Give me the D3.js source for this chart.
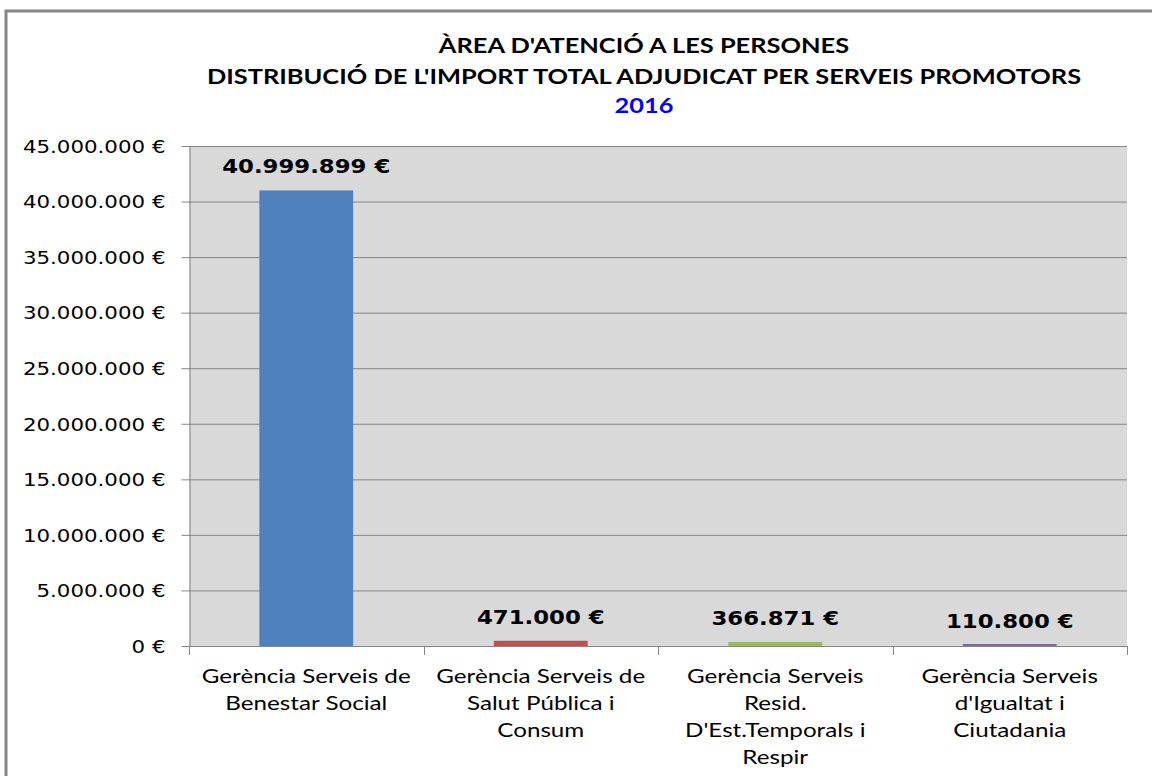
<!DOCTYPE html>
<html>
<head>
<meta charset="utf-8">
<script src="https://cdn.jsdelivr.net/npm/d3@7"></script>
<style>
  body { margin: 0; background: #fff; }
  svg { display: block; }
</style>
</head>
<body>
<svg id="chart" width="1152" height="776"></svg>
<script>
// dades
const categories = [
    "Gerència Serveis de Benestar Social",
    "Gerència Serveis de Salut Pública i Consum",
    "Gerència Serveis Resid. D'Est.Temporals i Respir",
    "Gerència Serveis d'Igualtat i Ciutadania"
];
const categoryLines = [
    ["Gerència Serveis de", "Benestar Social"],
    ["Gerència Serveis de", "Salut Pública i", "Consum"],
    ["Gerència Serveis", "Resid.", "D'Est.Temporals i", "Respir"],
    ["Gerència Serveis", "d'Igualtat i", "Ciutadania"]
];
const values = [40999899, 471000, 366871, 110800];
const barColors = ["#4F81BD", "#C0504D", "#9BBB59", "#8064A2"];
const yTicks = [0, 5000000, 10000000, 15000000, 20000000, 25000000, 30000000, 35000000, 40000000, 45000000];
const titleLines = ["ÀREA D'ATENCIÓ A LES PERSONES", "DISTRIBUCIÓ DE L'IMPORT TOTAL ADJUDICAT PER SERVEIS PROMOTORS", "2016"];

const svg = d3.select("#chart");
const plot = { left: 189, right: 1127, top: 146, bottom: 646 };

// format 40.999.899 €
const fmt = v => d3.format(",")(v).replace(/,/g, ".") + " €";

// estira el text horitzontalment (la imatge original està eixamplada)
function stretch(sel, factor) {
    sel.each(function () {
        const L = this.getComputedTextLength();
        d3.select(this).attr("textLength", L * factor).attr("lengthAdjust", "spacingAndGlyphs");
    });
}

// marc exterior
svg.append("rect")
    .attr("x", 6).attr("y", 11)
    .attr("width", 1300).attr("height", 900)
    .attr("fill", "none")
    .attr("stroke", "#868686")
    .attr("stroke-width", 3);

const x = d3.scaleBand()
    .domain(categories)
    .range([plot.left, plot.right])
    .paddingInner(0.6)
    .paddingOuter(0.3);

const y = d3.scaleLinear()
    .domain([0, 45000000])
    .range([plot.bottom, plot.top]);

// fons de l'àrea
svg.append("rect")
    .attr("x", plot.left).attr("y", plot.top)
    .attr("width", plot.right - plot.left)
    .attr("height", plot.bottom - plot.top)
    .attr("fill", "#D9D9D9");

// línies de la graella
svg.selectAll(".grid")
    .data(yTicks.filter(d => d > 0))
    .enter().append("line")
    .attr("class", "grid")
    .attr("x1", plot.left).attr("x2", plot.right)
    .attr("y1", d => y(d) + 0.5).attr("y2", d => y(d) + 0.5)
    .style("stroke", "#868686")
    .style("stroke-width", 1);

// eix Y
const yAxis = svg.append("g")
    .attr("transform", `translate(${plot.left + 0.5},0)`)
    .call(d3.axisLeft(y).tickValues(yTicks).tickFormat(fmt).tickSizeInner(8).tickSizeOuter(0).tickPadding(16));
yAxis.select(".domain").attr("stroke", "#868686");
yAxis.selectAll(".tick line").attr("stroke", "#868686");
yAxis.selectAll(".tick text")
    .attr("fill", "#000")
    .style("font-family", "'DejaVu Sans', Verdana, sans-serif")
    .style("font-size", "17.5px")
    .attr("dy", "0.36em");
stretch(yAxis.selectAll(".tick text"), 1.22);

// barres
svg.selectAll(".bar")
    .data(values)
    .enter().append("rect")
    .attr("class", "bar")
    .attr("x", (d, i) => x(categories[i]))
    .attr("y", d => Math.min(y(d), y(0) - 2))
    .attr("width", x.bandwidth())
    .attr("height", d => Math.max(y(0) - y(d), 2))
    .style("fill", (d, i) => barColors[i]);

// etiquetes de valor
const vLabels = svg.selectAll(".vlabel")
    .data(values)
    .enter().append("text")
    .attr("class", "vlabel")
    .attr("x", (d, i) => x(categories[i]) + x.bandwidth() / 2)
    .attr("y", d => y(d) - 17)
    .attr("text-anchor", "middle")
    .style("font-family", "'DejaVu Sans', Verdana, sans-serif")
    .style("font-weight", "bold")
    .style("font-size", "20px")
    .text(fmt);
stretch(vLabels, 1.14);

// eix X
svg.append("line")
    .attr("x1", plot.left).attr("x2", plot.right)
    .attr("y1", plot.bottom + 0.5).attr("y2", plot.bottom + 0.5)
    .style("stroke", "#868686");
svg.selectAll(".xtick")
    .data(d3.range(categories.length + 1))
    .enter().append("line")
    .attr("class", "xtick")
    .attr("x1", i => Math.round(plot.left + i * x.step()) + 0.5)
    .attr("x2", i => Math.round(plot.left + i * x.step()) + 0.5)
    .attr("y1", plot.bottom).attr("y2", plot.bottom + 9)
    .style("stroke", "#868686");

const xLabels = svg.selectAll(".xlabel")
    .data(categoryLines)
    .enter().append("text")
    .attr("class", "xlabel")
    .attr("text-anchor", "middle")
    .style("font-family", "Lato, 'Open Sans', sans-serif")
    .style("font-size", "20px")
    .style("fill", "#000");
xLabels.each(function (lines, i) {
    const cx = x(categories[i]) + x.bandwidth() / 2;
    d3.select(this).selectAll("tspan")
        .data(lines)
        .enter().append("tspan")
        .attr("x", cx)
        .attr("y", (d, j) => 683 + j * 27)
        .text(d => d);
});
stretch(xLabels.selectAll("tspan"), 1.21);

// títol
const title = svg.selectAll(".title")
    .data(titleLines)
    .enter().append("text")
    .attr("class", "title")
    .attr("x", 644)
    .attr("y", (d, i) => [53, 84, 113][i])
    .attr("text-anchor", "middle")
    .style("font-family", "Lato, 'Open Sans', sans-serif")
    .style("font-weight", "bold")
    .style("font-size", "20px")
    .style("fill", (d, i) => i === 2 ? "#0000FF" : "#000")
    .text(d => d);
stretch(title, 1.27);
</script>
</body>
</html>
